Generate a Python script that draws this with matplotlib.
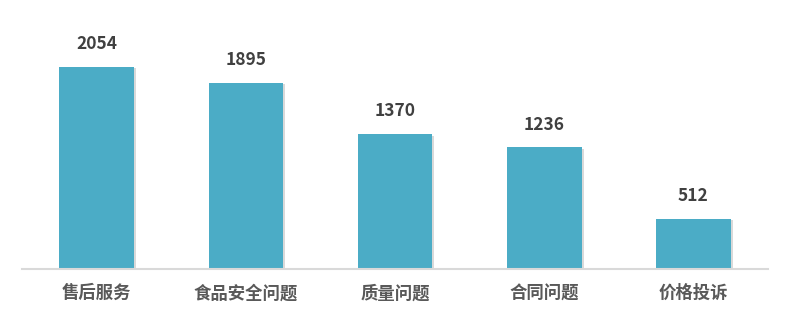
import matplotlib
matplotlib.use("Agg")
import matplotlib.pyplot as plt
import matplotlib.patheffects as pe

plt.rcParams['font.family'] = ['Noto Sans CJK SC', 'DejaVu Sans']

categories = ['售后服务', '食品安全问题', '质量问题', '合同问题', '价格投诉']
values = [2054, 1895, 1370, 1236, 512]

fig = plt.figure(figsize=(7.92, 3.2), dpi=100)
ax = fig.add_axes([22/792, 1 - 269/320, (768-22)/792, (269-20)/320])

x = list(range(len(categories)))
bars = ax.bar(x, values, width=0.5, color='#4BACC6', zorder=2)
for b in bars:
    b.set_path_effects([pe.SimplePatchShadow(offset=(1.5, -1), shadow_rgbFace='#000000', alpha=0.15), pe.Normal()])

for xi, v in zip(x, values):
    ax.annotate(str(v), (xi, v), xytext=(0, 10), textcoords='offset points',
                ha='center', va='bottom', fontsize=12.5, fontweight='bold', color='#404040')

ax.set_xlim(-0.5, len(categories) - 0.5)
ax.set_ylim(0, (269-20)/202*2054)
ax.set_xticks(x)
ax.set_xticklabels(categories, fontsize=12.5, color='#595959', fontweight='bold')
ax.tick_params(axis='x', length=0, pad=11)
ax.set_yticks([])
for s in ['top', 'right', 'left']:
    ax.spines[s].set_visible(False)
ax.spines['bottom'].set_color('#D9D9D9')
ax.spines['bottom'].set_linewidth(1.5)

fig.savefig('out.png', dpi=100)
